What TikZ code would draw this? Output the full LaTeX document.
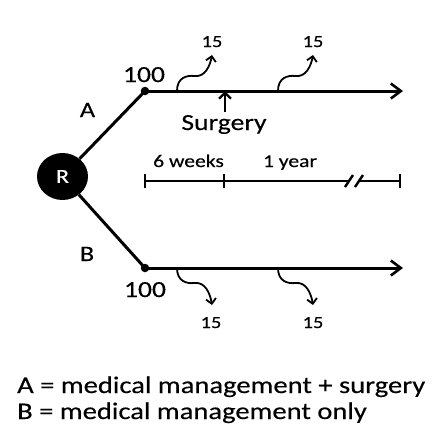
\documentclass[tikz,border=0pt]{standalone}
\usepackage{fontspec}
\setmainfont{Carlito}
\newfontfamily\wf{Carlito}[FakeStretch=1.2,FakeBold=0.3]
\usetikzlibrary{arrows.meta,shapes.geometric}
\begin{document}
\begin{tikzpicture}[x=1pt,y=-1pt,
  main/.style={line width=3pt,-{Straight Barb[length=10pt,width=15pt,line width=2.6pt]}},
  arm/.style={line width=3pt},
  wavy/.style={line width=1.8pt,-{Straight Barb[length=5pt,width=10pt,line width=1.8pt]}},
  lbl/.style={inner sep=0pt,anchor=base,font=\wf\fontsize{23}{26}\selectfont},
  small/.style={inner sep=0pt,anchor=base,font=\wf\fontsize{18}{21}\selectfont},
  num/.style={inner sep=0pt,anchor=base,font=\wf\fontsize{17}{20}\selectfont},
  leg/.style={inner sep=0pt,anchor=base west,font=\wf\fontsize{23.8}{28}\selectfont},
  tl/.style={line width=2.2pt},
  dot/.style={circle,fill=black,inner sep=0pt,minimum size=8.5pt}]
\useasboundingbox (0,0) rectangle (448,432);
\node[ellipse,fill=black,minimum width=51pt,minimum height=47pt,inner sep=0pt,text=white,font=\wf\fontsize{20}{22}\selectfont] (r) at (62.5,176.5) {R};
\node[dot] (a) at (145,91) {};
\node[dot] (b) at (145,268) {};
\coordinate (aE) at (403,91);
\coordinate (bE) at (403,268);
\draw[arm] (r) -- (a.center);
\draw[arm] (r) -- (b.center);
\draw[main] (a.center) -- (aE);
\draw[main] (b.center) -- (bE);
% labels
\node[lbl,font=\wf\fontsize{22}{26}\selectfont] (lA) at (87.5,117) {A};
\node[lbl,font=\wf\fontsize{22}{26}\selectfont] (lB) at (87,261) {B};
\node[lbl] (n100a) at (144,82) {100};
\node[lbl] (n100b) at (145,297) {100};
% wavy arrows up
\coordinate (u1s) at (177,91); \coordinate (u1e) at (212,55);
\coordinate (u2s) at (278,91); \coordinate (u2e) at (313,55);
\draw[wavy] (u1s) .. controls (177,78) and (186,75) .. (195,76) .. controls (205,77) and (210,66) .. (u1e);
\draw[wavy] (u2s) .. controls (278,78) and (287,75) .. (296,76) .. controls (306,77) and (311,66) .. (u2e);
\node[num] (t1) at (212,47) {15};
\node[num] (t2) at (313,47) {15};
% wavy arrows down
\coordinate (d1s) at (177,268); \coordinate (d1e) at (212,305);
\coordinate (d2s) at (278,268); \coordinate (d2e) at (313,305);
\draw[wavy] (d1s) .. controls (177,281) and (186,284) .. (195,283) .. controls (205,282) and (210,293) .. (d1e);
\draw[wavy] (d2s) .. controls (278,281) and (287,284) .. (296,283) .. controls (306,282) and (311,293) .. (d2e);
\node[num] (b1) at (211,328) {15};
\node[num] (b2) at (313,328) {15};
% surgery
\node[lbl] (surg) at (224,130) {Surgery};
\coordinate (sg) at (225,91);
\coordinate (sgb) at (225,112);
\draw[line width=2.6pt,-{Straight Barb[length=6pt,width=12pt,line width=2.4pt]}] (sgb) -- (sg);
% timeline
\node[small] (w6) at (188.5,167) {6 weeks};
\node[small] (y1) at (290,167) {1 year};
\coordinate (t0) at (145,181);
\coordinate (tm) at (224,181);
\coordinate (tb1) at (349,181);
\coordinate (tb2) at (359,181);
\coordinate (t3) at (400,181);
\draw[tl] (t0) -- (tb1);
\draw[tl] (tb2) -- (t3);
\foreach \p in {t0,tm,t3} \draw[line width=2.6pt] ([yshift=-7pt]\p) -- ([yshift=7pt]\p);
\draw[line width=2.4pt] ([shift={(-4,6)}]tb1) -- ([shift={(4,-6)}]tb1);
\draw[line width=2.4pt] ([shift={(-4,6)}]tb2) -- ([shift={(4,-6)}]tb2);
% legend
\node[leg] (legA) at (17,393) {A = medical management + surgery};
\node[leg] (legB) at (17,419) {B = medical management only};
\end{tikzpicture}
\end{document}
